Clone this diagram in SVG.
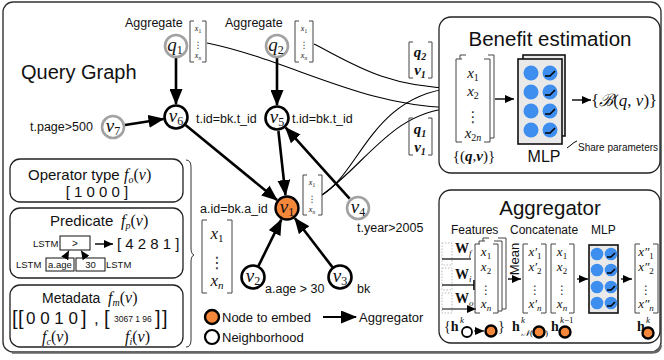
<svg xmlns="http://www.w3.org/2000/svg" width="664" height="360" viewBox="0 0 664 360">
<style>
.sans{font-family:"Liberation Sans",Arial,sans-serif;fill:#111}
.math{font-family:"Liberation Serif","DejaVu Serif",serif;font-style:italic;fill:#111}
.rm{font-family:"Liberation Serif","DejaVu Serif",serif;fill:#111}
.bf{font-family:"Liberation Serif","DejaVu Serif",serif;font-weight:bold;fill:#111}
.dots{font-family:"DejaVu Serif","DejaVu Sans",serif;fill:#333}
.box{fill:#fff;stroke:#222;stroke-width:1.3}
.edge{stroke:#000;stroke-width:2.6;fill:none}
.curve{stroke:#000;stroke-width:1.1;fill:none}
.brk{fill:none;stroke:#444;stroke-width:1}
.nb{fill:#fff;stroke:#000;stroke-width:2.6}
.ng{fill:#fff;stroke:#a2a2a2;stroke-width:2.6}
.ne{fill:#f5873a;stroke:#000;stroke-width:2.4}
.neu{fill:#3d8eee}
.relu{fill:none;stroke:#000;stroke-width:1.5}
.mlp{fill:#e9e9e9;stroke:#111;stroke-width:1.6}
</style>
<defs>
<marker id="big" markerUnits="userSpaceOnUse" markerWidth="17" markerHeight="13" refX="15" refY="6.5" orient="auto"><path d="M0,0 L16,6.5 L0,13 z" fill="#000"/></marker>
<marker id="sm" markerUnits="userSpaceOnUse" markerWidth="10" markerHeight="8" refX="9" refY="4" orient="auto"><path d="M0,0 L9,4 L0,8 z" fill="#000"/></marker>
<marker id="bar" markerUnits="userSpaceOnUse" markerWidth="3" markerHeight="10" refX="1.5" refY="5" orient="auto"><path d="M1.5,0 V10" stroke="#000" stroke-width="1.6"/></marker>
</defs>

<!-- outer frame -->
<rect x="3" y="2" width="658" height="350" rx="10" fill="#fff" stroke="#333" stroke-width="1.4"/>
<path d="M12,352.5 H652 Q660,352.5 661,345" fill="none" stroke="#666" stroke-width="2.4"/>

<text x="21" y="79" font-size="20" class="sans">Query Graph</text>

<!-- connectors of the query graph -->
<g id="connectors">
  <line x1="176" y1="58" x2="176" y2="104" class="edge" marker-end="url(#big)"/>
  <line x1="277" y1="58" x2="277" y2="105" class="edge" marker-end="url(#big)"/>
  <line x1="125" y1="125" x2="163.5" y2="119" class="edge" marker-end="url(#big)"/>
  <line x1="185.5" y1="125" x2="277" y2="200" class="edge" marker-end="url(#big)"/>
  <line x1="278.4" y1="131" x2="285.5" y2="195" class="edge" marker-end="url(#big)"/>
  <line x1="349.6" y1="198.7" x2="285.7" y2="127.7" class="edge" marker-end="url(#big)"/>
  <line x1="258.5" y1="265.8" x2="281.3" y2="219.7" class="edge" marker-end="url(#big)"/>
  <line x1="332.4" y1="267.1" x2="294.9" y2="218.3" class="edge" marker-end="url(#big)"/>
  <!-- pair inputs into the benefit model -->
  <path d="M207,43 C290,60 360,106 453,108" class="curve" marker-end="url(#bar)"/>
  <path d="M314,44 C350,62 385,87 453,88" class="curve" marker-end="url(#sm)"/>
  <path d="M322,195 C360,172 372,96 453,88" class="curve"/>
  <path d="M322,195 C368,162 392,112 453,108" class="curve"/>
</g>

<!-- feature vectors in the graph -->
<g id="vec-q1">
  <path d="M194,21 H190 V62 H194 M202,21 H206 V62 H202" class="brk"/>
  <text x="198" y="31" font-size="8" text-anchor="middle" class="math">x<tspan font-size="5.5" dy="1.5" font-style="normal">1</tspan></text>
  <text x="198" y="48" font-size="9" text-anchor="middle" class="dots">⋮</text>
  <text x="198" y="58" font-size="8" text-anchor="middle" class="math">x<tspan font-size="5.5" dy="1.5">n</tspan></text>
</g>
<g id="vec-q2">
  <path d="M299,21 H295 V62 H299 M309,21 H313 V62 H309" class="brk"/>
  <text x="304" y="31" font-size="8" text-anchor="middle" class="math">x<tspan font-size="5.5" dy="1.5" font-style="normal">1</tspan></text>
  <text x="304" y="48" font-size="9" text-anchor="middle" class="dots">⋮</text>
  <text x="304" y="58" font-size="8" text-anchor="middle" class="math">x<tspan font-size="5.5" dy="1.5">n</tspan></text>
</g>
<g id="vec-v1">
  <path d="M307,175 H303 V215 H307 M318,175 H322 V215 H318" class="brk"/>
  <text x="312" y="185" font-size="8" text-anchor="middle" class="math">x<tspan font-size="5.5" dy="1.5" font-style="normal">1</tspan></text>
  <text x="312" y="202" font-size="9" text-anchor="middle" class="dots">⋮</text>
  <text x="312" y="212" font-size="8" text-anchor="middle" class="math">x<tspan font-size="5.5" dy="1.5">n</tspan></text>
</g>
<g id="vec-big">
  <path d="M207,220 H202 V293 H207 M227,220 H232 V293 H227" class="brk"/>
  <text x="217" y="239" font-size="17" text-anchor="middle" class="math">x<tspan font-size="11" dy="3" font-style="normal">1</tspan></text>
  <text x="217" y="268" font-size="16" text-anchor="middle" class="dots">⋮</text>
  <text x="217" y="286" font-size="17" text-anchor="middle" class="math">x<tspan font-size="11" dy="3">n</tspan></text>
</g>

<!-- labels on the graph -->
<text x="125" y="27" font-size="12.5" class="sans">Aggregate</text>
<text x="225" y="27" font-size="12.5" class="sans">Aggregate</text>
<text x="30" y="131" font-size="12.5" class="sans">t.page&gt;500</text>
<text x="196" y="123" font-size="12.5" class="sans">t.id=bk.t_id</text>
<text x="292" y="123" font-size="12.5" class="sans">t.id=bk.t_id</text>
<text x="200" y="213" font-size="12.5" class="sans">a.id=bk.a_id</text>
<text x="357" y="232" font-size="12.5" class="sans">t.year&gt;2005</text>
<text x="265" y="293" font-size="12.5" class="sans">a.age &gt; 30</text>
<text x="357" y="293" font-size="12.5" class="sans">bk</text>

<!-- pair labels -->
<g id="pair-q2v1">
  <path d="M413,42 H409 V78 H413 M428,42 H432 V78 H428" class="brk" stroke="#222"/>
  <text x="420" y="57" font-size="15" text-anchor="middle" class="bf" font-style="italic">q<tspan font-size="10" dy="3">2</tspan></text>
  <text x="420" y="75" font-size="15" text-anchor="middle" class="bf" font-style="italic">v<tspan font-size="10" dy="3">1</tspan></text>
</g>
<g id="pair-q1v1">
  <path d="M413,118 H409 V155 H413 M428,118 H432 V155 H428" class="brk" stroke="#222"/>
  <text x="420" y="134" font-size="15" text-anchor="middle" class="bf" font-style="italic">q<tspan font-size="10" dy="3">1</tspan></text>
  <text x="420" y="152" font-size="15" text-anchor="middle" class="bf" font-style="italic">v<tspan font-size="10" dy="3">1</tspan></text>
</g>

<!-- graph nodes -->
<g id="q1"><circle cx="176" cy="46" r="11" class="ng"/><text x="175" y="51" font-size="19" text-anchor="middle" class="math">q<tspan font-size="12" dy="3" font-style="normal">1</tspan></text></g>
<g id="q2"><circle cx="277" cy="46" r="11" class="ng"/><text x="276" y="51" font-size="19" text-anchor="middle" class="math">q<tspan font-size="12" dy="3" font-style="normal">2</tspan></text></g>
<g id="v7"><circle cx="113" cy="127" r="11" class="ng"/><text x="113" y="132" font-size="19" text-anchor="middle" class="math">v<tspan font-size="12" dy="3" font-style="normal">7</tspan></text></g>
<g id="v6"><circle cx="176" cy="117" r="11.5" class="nb"/><text x="176" y="122" font-size="19" text-anchor="middle" class="math">v<tspan font-size="12" dy="3" font-style="normal">6</tspan></text></g>
<g id="v5"><circle cx="277" cy="118" r="11.5" class="nb"/><text x="277" y="123" font-size="19" text-anchor="middle" class="math">v<tspan font-size="12" dy="3" font-style="normal">5</tspan></text></g>
<g id="v1"><circle cx="287" cy="208" r="11.5" class="ne"/><text x="287" y="213" font-size="19" text-anchor="middle" class="math">v<tspan font-size="12" dy="3" font-style="normal">1</tspan></text></g>
<g id="v4"><circle cx="358" cy="208" r="11" class="ng"/><text x="358" y="213" font-size="19" text-anchor="middle" class="math">v<tspan font-size="12" dy="3" font-style="normal">4</tspan></text></g>
<g id="v2"><circle cx="253" cy="277" r="11.5" class="nb"/><text x="253" y="282" font-size="19" text-anchor="middle" class="math">v<tspan font-size="12" dy="3" font-style="normal">2</tspan></text></g>
<g id="v3"><circle cx="340" cy="277" r="11.5" class="nb"/><text x="340" y="282" font-size="19" text-anchor="middle" class="math">v<tspan font-size="12" dy="3" font-style="normal">3</tspan></text></g>

<!-- legend -->
<g id="legend">
  <circle cx="212" cy="317" r="7" class="ne" stroke-width="2"/>
  <text x="222" y="322" font-size="13" class="sans">Node to embed</text>
  <line x1="323" y1="317" x2="356" y2="317" stroke="#000" stroke-width="2.2" marker-end="url(#big)"/>
  <text x="359" y="322" font-size="13" class="sans">Aggregator</text>
  <circle cx="212" cy="337" r="7" fill="#fff" stroke="#000" stroke-width="2.2"/>
  <text x="222" y="342" font-size="13" class="sans">Neighborhood</text>
</g>

<!-- node feature encodings -->
<g id="operator-type">
  <rect x="10" y="159" width="173" height="43" rx="10" class="box"/>
  <text x="28" y="180" font-size="15" class="sans">Operator type</text>
  <text x="124" y="180" font-size="16" class="math">f<tspan font-size="10" dy="3">o</tspan><tspan dy="-3" font-style="normal">(</tspan>v<tspan font-style="normal">)</tspan></text>
  <text x="97" y="197" font-size="15" text-anchor="middle" class="sans">[ 1 0 0 0 ]</text>
</g>
<g id="predicate">
  <rect x="10" y="208" width="173" height="70" rx="10" class="box"/>
  <text x="50" y="226" font-size="15" class="sans">Predicate</text>
  <text x="121" y="226" font-size="16" class="math">f<tspan font-size="10" dy="3">p</tspan><tspan dy="-3" font-style="normal">(</tspan>v<tspan font-style="normal">)</tspan></text>
  <text x="33" y="247" font-size="9.5" class="sans">LSTM</text>
  <rect x="60" y="236" width="30" height="14" fill="#fff" stroke="#111" stroke-width="1"/>
  <text x="75" y="247" font-size="10" text-anchor="middle" class="sans">&gt;</text>
  <line x1="95" y1="244" x2="113" y2="244" stroke="#000" stroke-width="1.4" marker-end="url(#sm)"/>
  <text x="117" y="249" font-size="15" class="sans">[ 4 2 8 1 ]</text>
  <text x="16" y="268" font-size="9.5" class="sans">LSTM</text>
  <rect x="46" y="258" width="28" height="13" fill="#fff" stroke="#111" stroke-width="1"/>
  <text x="60" y="268" font-size="9.5" text-anchor="middle" class="sans">a.age</text>
  <rect x="76" y="258" width="29" height="13" fill="#fff" stroke="#111" stroke-width="1"/>
  <text x="90.5" y="268" font-size="9.5" text-anchor="middle" class="sans">30</text>
  <text x="106" y="268" font-size="9.5" class="sans">LSTM</text>
  <line x1="65" y1="258" x2="69" y2="250.5" stroke="#000" stroke-width="0.9" marker-end="url(#sm)"/>
  <line x1="86" y1="258" x2="81" y2="250.5" stroke="#000" stroke-width="0.9" marker-end="url(#sm)"/>
</g>
<g id="metadata">
  <rect x="10" y="285" width="173" height="62" rx="10" class="box"/>
  <text x="42" y="303" font-size="14" class="sans">Metadata</text>
  <text x="108" y="303" font-size="16" class="math">f<tspan font-size="10" dy="3">m</tspan><tspan dy="-3" font-style="normal">(</tspan>v<tspan font-style="normal">)</tspan></text>
  <text x="12" y="325" font-size="20" class="sans">[</text>
  <text x="18" y="325" font-size="20" class="sans">[</text>
  <text x="26" y="324" font-size="17" class="sans">0 0 1 0</text>
  <text x="81" y="325" font-size="20" class="sans">]</text>
  <text x="94" y="324" font-size="17" class="sans">,</text>
  <text x="104" y="325" font-size="20" class="sans">[</text>
  <text x="114" y="322" font-size="8.5" class="sans">3067 1 96</text>
  <text x="155" y="325" font-size="20" class="sans">]</text>
  <text x="162" y="325" font-size="20" class="sans">]</text>
  <text x="42" y="342" font-size="16" class="math">f<tspan font-size="10" dy="3">c</tspan><tspan dy="-3" font-style="normal">(</tspan>v<tspan font-style="normal">)</tspan></text>
  <text x="125" y="342" font-size="16" class="math">f<tspan font-size="10" dy="3">i</tspan><tspan dy="-3" font-style="normal">(</tspan>v<tspan font-style="normal">)</tspan></text>
</g>
<path d="M186,160 Q191,160 191,167 V248 Q191,254 194,255 Q191,256 191,262 V340 Q191,347 186,347" fill="none" stroke="#333" stroke-width="1"/>

<!-- benefit estimation -->
<g id="benefit">
  <rect x="439" y="17" width="221" height="156" rx="12" class="box"/>
  <text x="550" y="46" font-size="20.5" text-anchor="middle" class="sans">Benefit estimation</text>
  <path d="M466,55 H460 V59 M488,55 H494 V138 H490" class="brk"/>
  <path d="M462,59 H456 V142 H462 M484,59 H490 V142 H484" class="brk"/>
  <text x="473" y="78" font-size="15" text-anchor="middle" class="math">x<tspan font-size="10" dy="3" font-style="normal">1</tspan></text>
  <text x="473" y="96" font-size="15" text-anchor="middle" class="math">x<tspan font-size="10" dy="3" font-style="normal">2</tspan></text>
  <text x="473" y="122" font-size="15" text-anchor="middle" class="dots">⋮</text>
  <text x="473" y="138" font-size="15" text-anchor="middle" class="math">x<tspan font-size="10" dy="3" font-style="normal">2</tspan><tspan font-size="10">n</tspan></text>
  <text x="474" y="161" font-size="15" text-anchor="middle" class="rm">{(<tspan class="bf" font-style="italic">q</tspan>,<tspan class="bf" font-style="italic">v</tspan>)}</text>
  <line x1="495" y1="99" x2="514" y2="99" stroke="#000" stroke-width="1.4" marker-end="url(#sm)"/>
  <rect x="523" y="55" width="42" height="81" class="mlp" fill="#f2f2f2"/>
  <rect x="518" y="59" width="44" height="85" class="mlp"/>
  <g id="mlp-units">
    <circle cx="531" cy="73" r="7.5" class="neu"/><circle cx="550" cy="73" r="7.5" class="neu"/>
    <circle cx="531" cy="92" r="7.5" class="neu"/><circle cx="550" cy="92" r="7.5" class="neu"/>
    <circle cx="531" cy="111" r="7.5" class="neu"/><circle cx="550" cy="111" r="7.5" class="neu"/>
    <circle cx="531" cy="130" r="7.5" class="neu"/><circle cx="550" cy="130" r="7.5" class="neu"/>
    <path d="M545,76 H550 L555,71 M545,95 H550 L555,90 M545,114 H550 L555,109 M545,133 H550 L555,128" class="relu"/>
  </g>
  <text x="544" y="162" font-size="16" text-anchor="middle" class="sans">MLP</text>
  <line x1="572" y1="100" x2="591" y2="100" stroke="#000" stroke-width="1.4" marker-end="url(#sm)"/>
  <text x="591" y="106" font-size="17" class="rm">{<tspan class="math">ℬ</tspan>(<tspan class="math">q</tspan>, <tspan class="math">v</tspan>)}</text>
  <path d="M567,148 L571,145 Q574,142 577,141" fill="none" stroke="#000" stroke-width="1"/>
  <text x="578" y="151" font-size="10" class="sans">Share parameters</text>
</g>

<!-- aggregator -->
<g id="aggregator">
  <rect x="439" y="190" width="221" height="153" rx="12" class="box"/>
  <text x="550" y="215" font-size="20.5" text-anchor="middle" class="sans">Aggregator</text>
  <text x="451" y="234" font-size="12" class="sans">Features</text>
  <text x="510" y="234" font-size="12" class="sans">Concatenate</text>
  <text x="591" y="234" font-size="12" class="sans">MLP</text>
  <g stroke="#bbb" stroke-width="1" stroke-dasharray="1.5,1.5" fill="none">
    <rect x="442" y="243" width="10" height="22"/>
    <rect x="442" y="268" width="10" height="22"/>
    <rect x="442" y="293" width="10" height="20"/>
  </g>
  <text x="455" y="253" font-size="14" class="bf">W<tspan font-size="9" dy="3" class="math" font-weight="normal">f</tspan></text>
  <line x1="442" y1="259" x2="471" y2="259" stroke="#000" stroke-width="1.2"/>
  <text x="455" y="279" font-size="14" class="bf">W<tspan font-size="9" dy="3" class="math" font-weight="normal">i</tspan></text>
  <line x1="442" y1="285" x2="474" y2="285" stroke="#000" stroke-width="1.2" marker-end="url(#bar)"/>
  <text x="455" y="303" font-size="14" class="bf">W<tspan font-size="9" dy="3" class="math" font-weight="normal">o</tspan></text>
  <line x1="442" y1="309" x2="476" y2="309" stroke="#000" stroke-width="1.2" marker-end="url(#sm)"/>
  <path d="M489,238 H483 V241 M498,238 H506 V309 H502" class="brk"/>
  <path d="M485,241 H479 V244 M494,241 H502 V311 H498" class="brk"/>
  <path d="M480,244 H475 V313 H480 M493,244 H498 V313 H493" class="brk"/>
  <text x="486" y="256" font-size="13" text-anchor="middle" class="math">x<tspan font-size="9" dy="2.5" font-style="normal">1</tspan></text>
  <text x="486" y="271" font-size="13" text-anchor="middle" class="math">x<tspan font-size="9" dy="2.5" font-style="normal">2</tspan></text>
  <text x="486" y="294" font-size="12" text-anchor="middle" class="dots">⋮</text>
  <text x="486" y="308" font-size="13" text-anchor="middle" class="math">x<tspan font-size="9" dy="2.5">n</tspan></text>
  <text transform="translate(519,259) rotate(-90)" font-size="13" text-anchor="middle" class="sans">Mean</text>
  <line x1="508" y1="279" x2="521" y2="279" stroke="#000" stroke-width="1.3" marker-end="url(#sm)"/>
  <path d="M528,244 H523 V313 H528 M541,244 H546 V313 H541" class="brk"/>
  <text x="535" y="256" font-size="13" text-anchor="middle" class="math">x′<tspan font-size="9" dy="2.5" font-style="normal">1</tspan></text>
  <text x="535" y="271" font-size="13" text-anchor="middle" class="math">x′<tspan font-size="9" dy="2.5" font-style="normal">2</tspan></text>
  <text x="535" y="294" font-size="12" text-anchor="middle" class="dots">⋮</text>
  <text x="535" y="308" font-size="13" text-anchor="middle" class="math">x′<tspan font-size="9" dy="2.5">n</tspan></text>
  <path d="M556,244 H551 V313 H556 M569,244 H574 V313 H569" class="brk"/>
  <text x="562" y="256" font-size="13" text-anchor="middle" class="math">x<tspan font-size="9" dy="2.5" font-style="normal">1</tspan></text>
  <text x="562" y="271" font-size="13" text-anchor="middle" class="math">x<tspan font-size="9" dy="2.5" font-style="normal">2</tspan></text>
  <text x="562" y="294" font-size="12" text-anchor="middle" class="dots">⋮</text>
  <text x="562" y="308" font-size="13" text-anchor="middle" class="math">x<tspan font-size="9" dy="2.5">n</tspan></text>
  <line x1="577" y1="279" x2="588" y2="279" stroke="#000" stroke-width="1.3" marker-end="url(#sm)"/>
  <rect x="589" y="245" width="29" height="68" class="mlp" stroke-width="2"/>
  <circle cx="597" cy="254" r="6.3" class="neu"/><circle cx="611" cy="254" r="6.3" class="neu"/>
  <circle cx="597" cy="270" r="6.3" class="neu"/><circle cx="611" cy="270" r="6.3" class="neu"/>
  <circle cx="597" cy="287" r="6.3" class="neu"/><circle cx="611" cy="287" r="6.3" class="neu"/>
  <circle cx="597" cy="303" r="6.3" class="neu"/><circle cx="611" cy="303" r="6.3" class="neu"/>
  <path d="M607,257 H611 L615,253 M607,273 H611 L615,269 M607,290 H611 L615,286 M607,306 H611 L615,302" class="relu"/>
  <line x1="621" y1="279" x2="632" y2="279" stroke="#000" stroke-width="1.3" marker-end="url(#sm)"/>
  <path d="M640,244 H635 V313 H640 M653,244 H658 V313 H653" class="brk"/>
  <text x="646" y="256" font-size="13" text-anchor="middle" class="math">x″<tspan font-size="9" dy="2.5" font-style="normal">1</tspan></text>
  <text x="646" y="271" font-size="13" text-anchor="middle" class="math">x″<tspan font-size="9" dy="2.5" font-style="normal">2</tspan></text>
  <text x="646" y="294" font-size="12" text-anchor="middle" class="dots">⋮</text>
  <text x="646" y="308" font-size="13" text-anchor="middle" class="math">x″<tspan font-size="9" dy="2.5">n</tspan></text>
  <!-- state labels -->
  <text x="444" y="331" font-size="14" class="rm">{<tspan class="bf">h</tspan></text>
  <text x="460" y="323" font-size="9" class="math">k</text>
  <circle cx="467" cy="332" r="5" fill="#fff" stroke="#000" stroke-width="1.8"/>
  <line x1="474" y1="331" x2="484" y2="331" stroke="#000" stroke-width="1" marker-end="url(#sm)"/>
  <circle cx="491" cy="331" r="5.5" class="ne" stroke-width="1.6"/>
  <text x="498" y="331" font-size="14" class="rm">}</text>
  <text x="512" y="331" font-size="14" class="bf">h</text>
  <text x="521" y="323" font-size="9" class="math">k</text>
  <text x="521" y="336" font-size="9" class="math">𝒩<tspan font-style="normal">(</tspan></text>
  <circle cx="539" cy="332" r="5.5" class="ne" stroke-width="1.6"/>
  <text x="545" y="336" font-size="9" class="rm">)</text>
  <text x="551" y="331" font-size="14" class="bf">h</text>
  <text x="560" y="323" font-size="9" class="math">k<tspan font-style="normal">−1</tspan></text>
  <circle cx="565" cy="332" r="5.5" class="ne" stroke-width="1.6"/>
  <text x="637" y="331" font-size="14" class="bf">h</text>
  <text x="646" y="323" font-size="9" class="math">k</text>
  <circle cx="648" cy="333" r="5.5" class="ne" stroke-width="1.6"/>
</g>
</svg>
